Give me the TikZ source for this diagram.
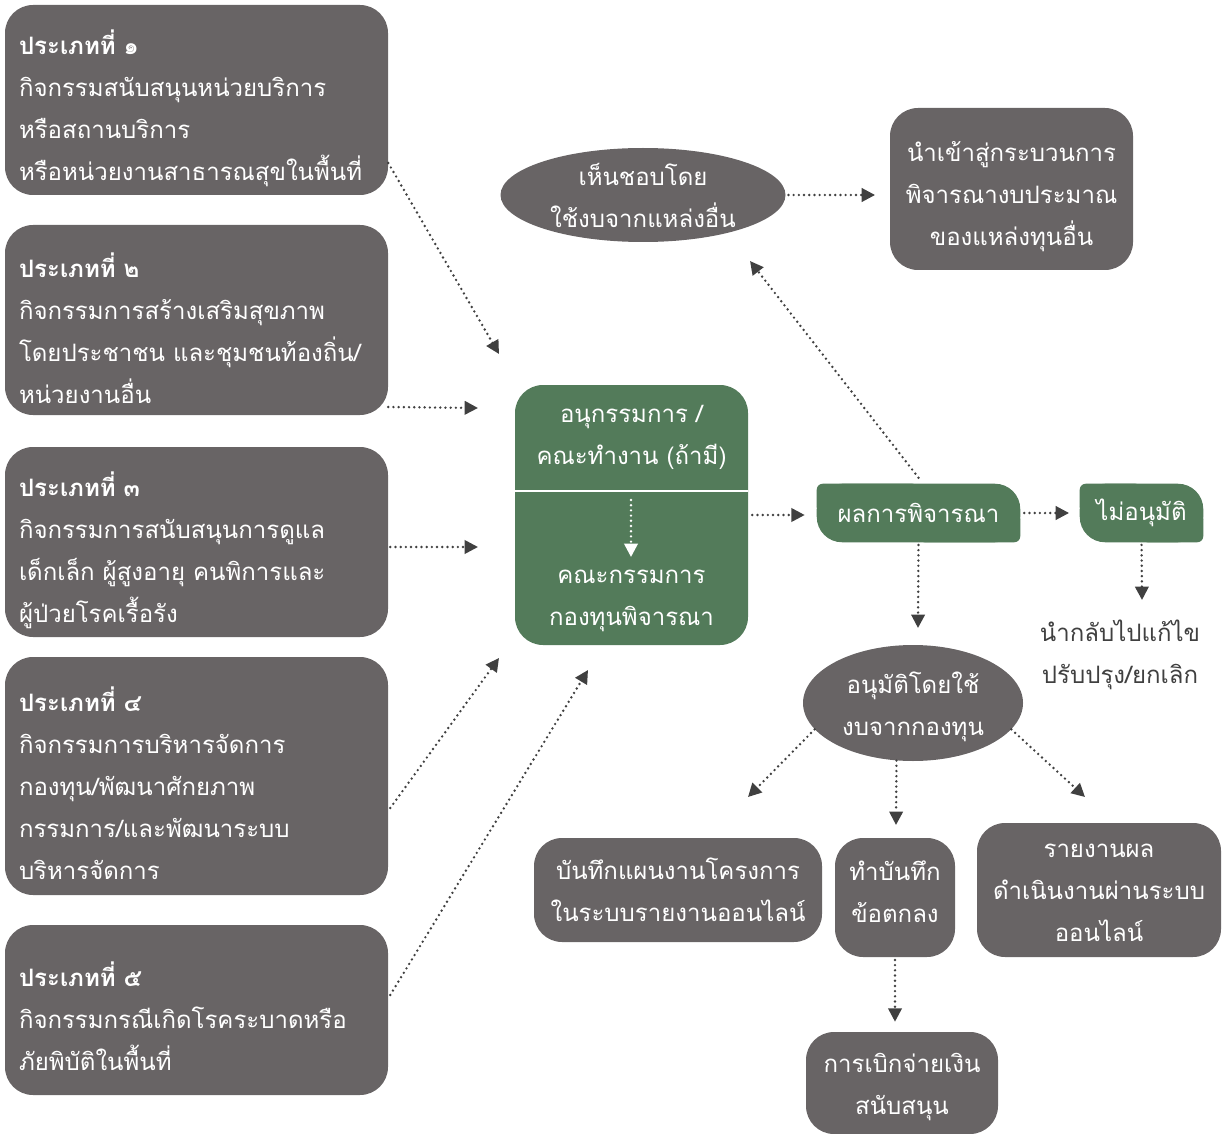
\documentclass[tikz,border=0pt]{standalone}
\usepackage{fontspec}
\setmainfont[Script=Thai]{Loma}
\usetikzlibrary{arrows.meta,shapes.geometric,backgrounds}
\definecolor{boxgray}{HTML}{686465}
\definecolor{boxgreen}{HTML}{537B5A}
\definecolor{arr}{HTML}{404040}
\begin{document}
\begin{tikzpicture}[x=0.75pt,y=-0.75pt,
  txt/.style={font=\fontsize{18}{31.5}\selectfont, text=white, align=center},
  graybox/.style={txt, fill=boxgray, rounded corners=21pt, inner sep=0pt},
  leftbox/.style={fill=boxgray, rounded corners=21pt, inner sep=0pt, minimum width=383*0.75pt},
  lefttext/.style={txt, text width=355*0.75pt, align=left, inner sep=0pt},
  ellbox/.style={txt, ellipse, fill=boxgray, inner sep=0pt},
  dotarrow/.style={draw=arr, line width=2pt, line cap=round, dash pattern=on 0pt off 3.9pt,
    -{Triangle[length=10pt,width=10pt]}, arr},
  whitearrow/.style={draw=white, line width=2pt, line cap=round, dash pattern=on 0pt off 3.9pt,
    -{Triangle[length=10pt,width=10pt]}, white}
]
\useasboundingbox (0,0) rectangle (1231,1134);

% left boxes
\node[leftbox, minimum height=190*0.75pt] (t1) at (196.5,100) {};
\node[lefttext] (t1x) at (196.5,108) {\textbf{ประเภทที่ ๑}\\กิจกรรมสนับสนุนหน่วยบริการ\\หรือสถานบริการ\\หรือหน่วยงานสาธารณสุขในพื้นที่};
\node[leftbox, minimum height=190*0.75pt] (t2) at (196.5,320) {};
\node[lefttext] (t2x) at (196.5,328) {\textbf{ประเภทที่ ๒}\\กิจกรรมการสร้างเสริมสุขภาพ\\โดยประชาชน และชุมชนท้องถิ่น/\\หน่วยงานอื่น};
\node[leftbox, minimum height=190*0.75pt] (t3) at (196.5,542) {};
\node[lefttext] (t3x) at (196.5,550) {\textbf{ประเภทที่ ๓}\\กิจกรรมการสนับสนุนการดูแล\\เด็กเล็ก ผู้สูงอายุ คนพิการและ\\ผู้ป่วยโรคเรื้อรัง};
\node[leftbox, minimum height=238*0.75pt] (t4) at (196.5,776) {};
\node[lefttext] (t4x) at (196.5,783) {\textbf{ประเภทที่ ๔}\\กิจกรรมการบริหารจัดการ\\กองทุน/พัฒนาศักยภาพ\\กรรมการ/และพัฒนาระบบ\\บริหารจัดการ};
\node[leftbox, minimum height=170*0.75pt] (t5) at (196.5,1010) {};
\node[lefttext] (t5x) at (196.5,1016) {\textbf{ประเภทที่ ๕}\\กิจกรรมกรณีเกิดโรคระบาดหรือ\\ภัยพิบัติในพื้นที่};

% central green box
\node[fill=boxgreen, rounded corners=21pt, minimum width=233*0.75pt, minimum height=260*0.75pt] (g) at (631.5,515) {};
\draw[white, line width=1.5pt] (g.west |- 0,491) -- (g.east |- 0,491);
\node[txt] (gt) at (631.5,437) {อนุกรรมการ /\\คณะทำงาน (ถ้ามี)};
\node[txt] (gb) at (631.5,601) {คณะกรรมการ\\กองทุนพิจารณา};
\coordinate (gi1) at (631,500);
\coordinate (gi2) at (631,557);
\draw[whitearrow] (gi1) -- (gi2);

% upper right
\node[ellbox, minimum width=285*0.75pt, minimum height=94*0.75pt] (e1) at (643,195) {เห็นชอบโดย\\ใช้งบจากแหล่งอื่น};
\node[fill=boxgray, rounded corners=21pt, minimum width=243*0.75pt, minimum height=162*0.75pt] (b1) at (1011.5,189) {};
\node[txt] (b1x) at (1011.5,197) {นำเข้าสู่กระบวนการ\\พิจารณางบประมาณ\\ของแหล่งทุนอื่น};

% result boxes
\node[txt, minimum width=203*0.75pt, minimum height=58*0.75pt, inner sep=0pt] (pr) at (918.5,513) {ผลการพิจารณา};
\node[txt, minimum width=123*0.75pt, minimum height=58*0.75pt, inner sep=0pt] (na) at (1141.5,513) {ไม่อนุมัติ};
\begin{scope}[on background layer]
  \foreach \n in {pr,na}{
    \fill[boxgreen, rounded corners=19pt] (\n.north west) rectangle (\n.south east);
    \fill[boxgreen, rounded corners=4.5pt] (\n.north west) rectangle (\n.center);
    \fill[boxgreen, rounded corners=4.5pt] (\n.center) rectangle (\n.south east);
  }
\end{scope}
\node[txt, text=arr] (fix) at (1120,655) {นำกลับไปแก้ไข\\ปรับปรุง/ยกเลิก};

\node[ellbox, minimum width=220*0.75pt, minimum height=116*0.75pt] (e2) at (913,703) {};
\node[txt] (e2x) at (913,707) {อนุมัติโดยใช้\\งบจากกองทุน};

\node[graybox, minimum width=288*0.75pt, minimum height=104*0.75pt] (b2) at (678,890) {บันทึกแผนงานโครงการ\\ในระบบรายงานออนไลน์};
\node[fill=boxgray, rounded corners=21pt, minimum width=120*0.75pt, minimum height=119*0.75pt] (b3) at (895,897.5) {};
\node[txt] (b3x) at (895,892) {ทำบันทึก\\ข้อตกลง};
\node[graybox, minimum width=244*0.75pt, minimum height=134*0.75pt] (b4) at (1099,890) {};
\node[txt] (b4x) at (1099,893) {รายงานผล\\ดำเนินงานผ่านระบบ\\ออนไลน์};
\node[graybox, minimum width=192*0.75pt, minimum height=102*0.75pt] (b5) at (902,1083) {};
\node[txt] (b5x) at (902,1087) {การเบิกจ่ายเงิน\\สนับสนุน};

% free ends
\coordinate (c1) at (499,354);
\coordinate (c2) at (478,408);
\coordinate (c3) at (478,547);
\coordinate (c4) at (499,658);
\coordinate (c5) at (588,670);
\coordinate (up) at (750,261);
\coordinate (fx) at (1142,600);
\coordinate (dn) at (918,628);
\coordinate (d1) at (748,797);
\coordinate (d2) at (896,825);
\coordinate (d3) at (1085,797);

% connectors
\draw[dotarrow] ([yshift=-47.25pt]t1.east) -- (c1);
\draw[dotarrow] ([yshift=-65.25pt]t2.east) -- (c2);
\draw[dotarrow] ([xshift=1.5pt,yshift=-3.75pt]t3.east) -- (c3);
\draw[dotarrow] ([xshift=1.5pt,yshift=-24pt]t4.east) -- (c4);
\draw[dotarrow] ([xshift=1.5pt,yshift=11.25pt]t5.east) -- (c5);

\draw[dotarrow, shorten <=3pt, shorten >=9pt] (g.east) -- (g.east -| pr.west);
\draw[dotarrow, shorten <=3pt, shorten >=8pt] (pr.east) -- (na.west);
\draw[dotarrow, shorten <=2pt] (na.south) -- (fx);
\draw[dotarrow, shorten <=2pt] (pr.south) -- (dn);
\draw[dotarrow] ([yshift=4.5pt]pr.north) -- (up);
\draw[dotarrow, shorten <=2pt, shorten >=11pt] (e1.east) -- (e1.east -| b1.west);

\draw[dotarrow] (e2.195) -- (d1);
\draw[dotarrow] (e2.254) -- (d2);
\draw[dotarrow] (e2.-15) -- (d3);
\draw[dotarrow, shorten <=2pt, shorten >=7.5pt] (b3.south) -- (b3.south |- b5.north);
\end{tikzpicture}
\end{document}
